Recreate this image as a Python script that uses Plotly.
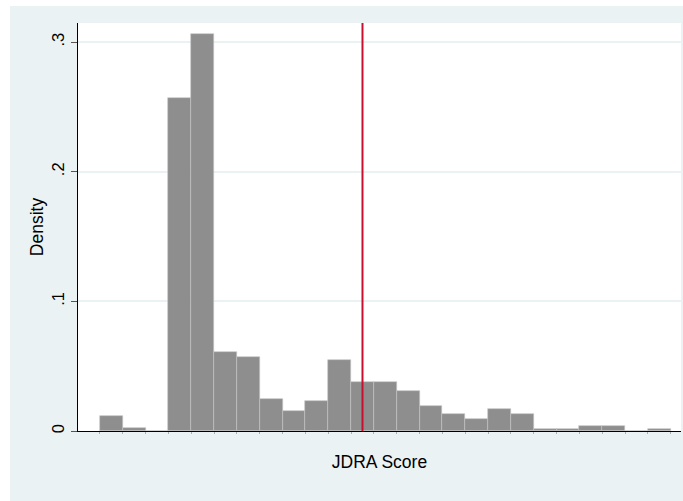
import plotly.graph_objects as go

# Histogram of JDRA scores: unit-width bins, density scale
bin_left = list(range(25))
density = [0.0115, 0.0020, 0.0, 0.2572, 0.3063, 0.0606, 0.0568, 0.0247,
           0.0154, 0.0231, 0.0548, 0.0378, 0.0378, 0.0306, 0.0190, 0.0133,
           0.0095, 0.0170, 0.0133, 0.0018, 0.0018, 0.0038, 0.0038, 0.0, 0.0018]
mean_score = 11.5

y_ticks = [0, 0.1, 0.2, 0.3]
y_tick_text = ["0", ".1", ".2", ".3"]

bin_centers = [b + 0.5 for b in bin_left]
bin_edges = bin_left + [bin_left[-1] + 1]

FONT = "Liberation Sans, Arial, Helvetica, sans-serif"
GRAPH_BG = "#eaf2f3"

fig = go.Figure()
fig.add_trace(go.Bar(
    x=bin_centers,
    y=density,
    width=1,
    marker=dict(color="#8e8e8e", line=dict(color="#c4c4c4", width=0.6)),
    hoverinfo="x+y",
))

fig.update_layout(
    width=683,
    height=501,
    margin=dict(l=78, r=2, t=23, b=70),
    paper_bgcolor="white",
    plot_bgcolor="white",
    showlegend=False,
    bargap=0,
    font=dict(family=FONT, size=16.5, color="black"),
    xaxis=dict(
        range=[-0.96, 25.45],
        showgrid=False,
        zeroline=False,
        showline=True,
        linecolor="black",
        linewidth=1,
        tickmode="array",
        tickvals=bin_edges,
        showticklabels=False,
        ticks="outside",
        ticklen=2,
        tickcolor="#b0b0b0",
        tickwidth=1,
        title=dict(text="JDRA Score", font=dict(size=17.5), standoff=22),
    ),
    yaxis=dict(
        range=[0, 0.3148],
        tickmode="array",
        tickvals=y_ticks,
        ticktext=y_tick_text,
        tickangle=-90,
        ticks="outside",
        ticklen=6,
        tickcolor="#555555",
        tickwidth=1,
        showgrid=True,
        gridcolor=GRAPH_BG,
        gridwidth=1.5,
        zeroline=False,
        showline=True,
        linecolor="black",
        linewidth=1,
        title=dict(text="Density", font=dict(size=17.5), standoff=1),
    ),
    shapes=[
        # graph region background
        dict(type="rect", xref="paper", yref="paper",
             x0=-0.1128, x1=1.01, y0=-0.2, y1=1.0417,
             fillcolor=GRAPH_BG, line=dict(width=0), layer="below"),
        # plot region
        dict(type="rect", xref="paper", yref="paper",
             x0=0, x1=1, y0=0, y1=1,
             fillcolor="white", line=dict(width=0), layer="below"),
        # reference line at the mean score
        dict(type="line", xref="x", yref="paper",
             x0=mean_score, x1=mean_score, y0=0, y1=1,
             line=dict(color="#c8102e", width=2), layer="above"),
    ],
)

fig.write_html("out.html")
